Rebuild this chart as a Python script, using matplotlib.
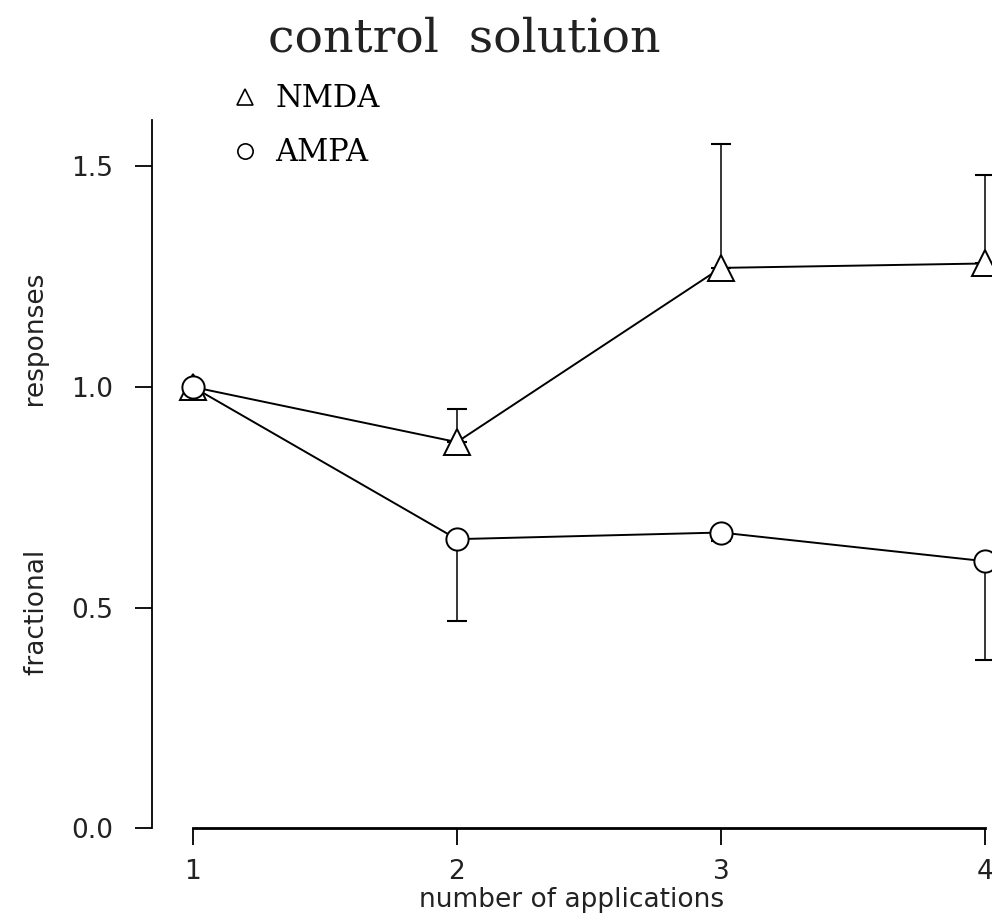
import matplotlib
matplotlib.use("Agg")
import matplotlib.pyplot as plt
from matplotlib.lines import Line2D

# --- data: fractional responses per application ---
applications = [1, 2, 3, 4]
nmda_mean = [1.00, 0.875, 1.27, 1.28]
nmda_err_up = [0.0, 0.075, 0.28, 0.20]
ampa_mean = [1.00, 0.655, 0.67, 0.605]
ampa_err_down = [0.0, 0.185, 0.02, 0.225]

y_ticks = [0.0, 0.5, 1.0, 1.5]
y_tick_labels = ['0.0', '0.5', '1.0', '1.5']
x_tick_labels = ['1', '2', '3', '4']

sans = 'DejaVu Sans'
serif = 'DejaVu Serif'

fig = plt.figure(figsize=(9.92, 9.17), dpi=100)
ax = fig.add_axes([0.1532, 0.097, 0.8468, 0.772])

# error bars (one-sided), drawn under the markers
ax.errorbar(applications, nmda_mean, yerr=[[0] * 4, nmda_err_up], fmt='none',
            ecolor='black', elinewidth=1.1, capsize=7, capthick=1.5, zorder=2)
ax.errorbar(applications, ampa_mean, yerr=[ampa_err_down, [0] * 4], fmt='none',
            ecolor='black', elinewidth=1.1, capsize=7, capthick=1.5, zorder=2)

ax.plot(applications, nmda_mean, color='black', lw=1.4, marker='^', ms=19,
        mfc='white', mec='black', mew=1.4, zorder=3, clip_on=False)
ax.plot(applications, ampa_mean, color='black', lw=1.4, marker='o', ms=16,
        mfc='white', mec='black', mew=1.4, zorder=3, clip_on=False)

ax.set_xlim(0.845, 4.027)
ax.set_ylim(0, 1.605)

# detached axes: y spine left of first point, x spine from 1 to 4
for side in ['top', 'right']:
    ax.spines[side].set_visible(False)
ax.spines['left'].set_bounds(0, 1.605)
ax.spines['left'].set_linewidth(1.3)
ax.spines['bottom'].set_bounds(1, 4)
ax.spines['bottom'].set_linewidth(2.0)

ax.set_yticks(y_ticks)
ax.set_yticklabels(y_tick_labels, fontsize=19, family=sans, color='#222222')
ax.set_xticks(applications)
ax.set_xticklabels(x_tick_labels, fontsize=19, family=sans, color='#222222')
ax.tick_params(axis='y', direction='out', length=12, width=1.3, pad=16)
ax.tick_params(axis='x', direction='out', length=12, width=1.3, pad=10)

ax.set_xlabel('number of applications', fontsize=19, family=sans,
              color='#222222', labelpad=2)
ax.set_ylabel('fractional                 responses', fontsize=19, family=sans,
              color='#222222', labelpad=15)

fig.text(0.27, 0.958, 'control  solution', fontsize=34, family=serif,
         color='#222222', va='center', ha='left')

handles = [
    Line2D([], [], marker='^', ls='none', ms=12, mfc='white', mec='black', mew=1.2),
    Line2D([], [], marker='o', ls='none', ms=11, mfc='white', mec='black', mew=1.2),
]
fig.legend(handles, ['NMDA', 'AMPA'], loc='upper left',
           bbox_to_anchor=(0.207, 0.939), frameon=False, handlelength=0.8,
           handletextpad=0.6, labelspacing=0.75,
           prop={'family': serif, 'size': 22})

fig.savefig('out.png', dpi=100, facecolor='white')
